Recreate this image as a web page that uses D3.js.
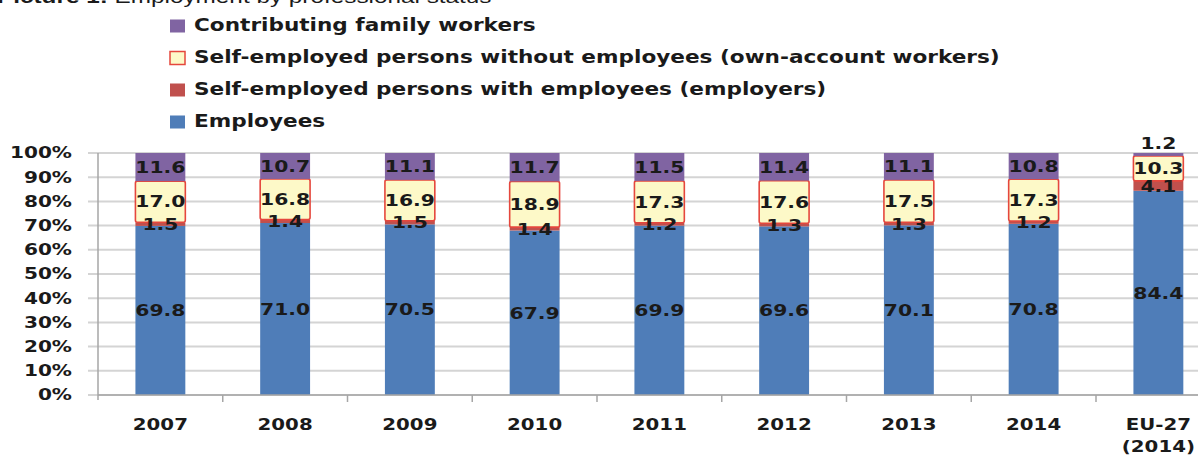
<!DOCTYPE html>
<html>
<head>
<meta charset="utf-8">
<script src="https://cdn.jsdelivr.net/npm/d3@7"></script>
<style>
  body { margin: 0; background: #fff; overflow: hidden; }
  svg { display: block; }
  text { font-family: "DejaVu Sans", Verdana, sans-serif; font-weight: bold; fill: #1a1a1a; }
</style>
</head>
<body>
<div id="chart"></div>
<script>
// chart data
const categories = ["2007", "2008", "2009", "2010", "2011", "2012", "2013", "2014", "EU-27\n(2014)"];
const employees = [69.8, 71.0, 70.5, 67.9, 69.9, 69.6, 70.1, 70.8, 84.4];
const employers = [1.5, 1.4, 1.5, 1.4, 1.2, 1.3, 1.3, 1.2, 4.1];
const ownAccount = [17.0, 16.8, 16.9, 18.9, 17.3, 17.6, 17.5, 17.3, 10.3];
const familyWorkers = [11.6, 10.7, 11.1, 11.7, 11.5, 11.4, 11.1, 10.8, 1.2];

const seriesKeys = ["employees", "employers", "ownAccount", "family"];
const seriesNames = {
  employees: "Employees",
  employers: "Self-employed persons with employees (employers)",
  ownAccount: "Self-employed persons without employees (own-account workers)",
  family: "Contributing family workers"
};
const yTicks = [0, 0.1, 0.2, 0.3, 0.4, 0.5, 0.6, 0.7, 0.8, 0.9, 1];

const colors = {
  employees: "#4f7db8",
  employers: "#c0504d",
  ownAccount: "#fdf9c8",
  family: "#8064a2"
};

const width = 1198, height = 457;
const plot = { left: 98, right: 1220.75, top: 153, bottom: 395 };

const rows = categories.map((c, i) => ({
  cat: c,
  employees: employees[i],
  employers: employers[i],
  ownAccount: ownAccount[i],
  family: familyWorkers[i]
}));

const svg = d3.select("#chart").append("svg")
  .attr("width", width)
  .attr("height", height);

// stretch text horizontally, the source picture is wider than it is tall
function stretch(sel, k) {
  sel.each(function() {
    const t = d3.select(this);
    const x = +t.attr("x") || 0, y = +t.attr("y") || 0;
    t.attr("transform", `translate(${x},${y}) scale(${k},1)`).attr("x", 0).attr("y", 0);
  });
}

const x = d3.scaleBand()
  .domain(categories)
  .range([plot.left, plot.right])
  .paddingInner(0.6)
  .paddingOuter(0.3);

const y = d3.scaleLinear()
  .domain([0, 1])
  .range([plot.bottom, plot.top]);

// title (mostly cut off at the top, as in the source)
const title = svg.append("text")
  .attr("x", -3)
  .attr("y", 3)
  .style("font-family", "'Liberation Sans', Arial, sans-serif")
  .style("font-size", "19px")
  .style("font-weight", "normal");
title.append("tspan").style("font-weight", "bold").text("Picture 1:");
title.append("tspan").text(" Employment by professional status");
stretch(title, 1.28);

// gridlines
svg.append("g")
  .selectAll("line")
  .data(yTicks)
  .join("line")
  .attr("x1", plot.left - 10)
  .attr("x2", width)
  .attr("y1", d => y(d))
  .attr("y2", d => y(d))
  .attr("stroke", "#d4d4d4")
  .attr("stroke-width", 2);

// y axis
const yAxis = svg.append("g")
  .attr("transform", `translate(${plot.left},0)`)
  .call(d3.axisLeft(y).tickValues(yTicks).tickFormat(d3.format(".0%")).tickSize(0).tickPadding(26));
yAxis.select(".domain").attr("stroke", "#a6a6a6").attr("stroke-width", 1.5)
  .attr("d", `M0,${plot.top}V${plot.bottom + 5}`);
yAxis.selectAll("text").style("font-size", "15px");
stretch(yAxis.selectAll("text"), 1.34);

// stacked bars
const stack = d3.stack().keys(seriesKeys).offset(d3.stackOffsetExpand);
const series = stack(rows);

const layers = svg.append("g")
  .selectAll("g")
  .data(series)
  .join("g")
  .attr("fill", d => colors[d.key]);

layers.selectAll("rect")
  .data(d => d.map(p => Object.assign(p, { key: d.key })))
  .join("rect")
  .attr("x", d => x(d.data.cat))
  .attr("width", x.bandwidth())
  .attr("y", d => y(d[1]))
  .attr("height", d => y(d[0]) - y(d[1]))
  .attr("rx", d => d.key === "ownAccount" ? 2 : 0)
  .attr("stroke", d => d.key === "ownAccount" ? "#e5473d" : "none")
  .attr("stroke-width", 1.6);

// x axis
svg.append("line")
  .attr("x1", plot.left).attr("x2", width)
  .attr("y1", plot.bottom).attr("y2", plot.bottom)
  .attr("stroke", "#a6a6a6").attr("stroke-width", 1.5);

svg.append("g")
  .selectAll("line")
  .data(categories.slice(1))
  .join("line")
  .attr("x1", d => x(d) - x.step() * x.paddingInner() / 2)
  .attr("x2", d => x(d) - x.step() * x.paddingInner() / 2)
  .attr("y1", plot.bottom)
  .attr("y2", plot.bottom + 7)
  .attr("stroke", "#a6a6a6").attr("stroke-width", 1.5);

const xLabels = svg.append("g")
  .selectAll("text")
  .data(categories)
  .join("text")
  .attr("x", d => x(d) + x.bandwidth() / 2)
  .attr("y", 430)
  .attr("text-anchor", "middle")
  .style("font-size", "15px");
xLabels.selectAll("tspan")
  .data(d => d.split("\n"))
  .join("tspan")
  .attr("x", 0)
  .attr("dy", (d, i) => i === 0 ? 0 : 22)
  .text(d => d);
stretch(xLabels, 1.32);

// data labels
const labelData = series.flatMap(s => s.map((p, i) => {
  const raw = rows[i][s.key];
  const small = s.key === "family" && raw < 3;
  return {
    cat: p.data.cat,
    value: raw,
    yPos: small ? y(p[1]) - 10 : y((p[0] + p[1]) / 2)
  };
}));

const labels = svg.append("g")
  .selectAll("text")
  .data(labelData)
  .join("text")
  .attr("x", d => x(d.cat) + x.bandwidth() / 2)
  .attr("y", d => d.yPos)
  .attr("dy", "0.36em")
  .attr("text-anchor", "middle")
  .style("font-size", "16px")
  .text(d => d.value.toFixed(1));
stretch(labels, 1.27);

// legend
const legendOrder = ["family", "ownAccount", "employers", "employees"];
const legend = svg.append("g")
  .selectAll("g")
  .data(legendOrder)
  .join("g")
  .attr("transform", (d, i) => `translate(170,${26 + i * 32})`);

legend.append("rect")
  .attr("x", 0).attr("y", -6.5)
  .attr("width", 15).attr("height", 13)
  .attr("fill", d => colors[d])
  .attr("stroke", d => d === "ownAccount" ? "#e5473d" : "none")
  .attr("stroke-width", 1.5);

const legendText = legend.append("text")
  .attr("x", 24)
  .attr("y", -1.5)
  .attr("dy", "0.36em")
  .style("font-size", "18px")
  .text(d => seriesNames[d]);
stretch(legendText, 1.2);
</script>
</body>
</html>
